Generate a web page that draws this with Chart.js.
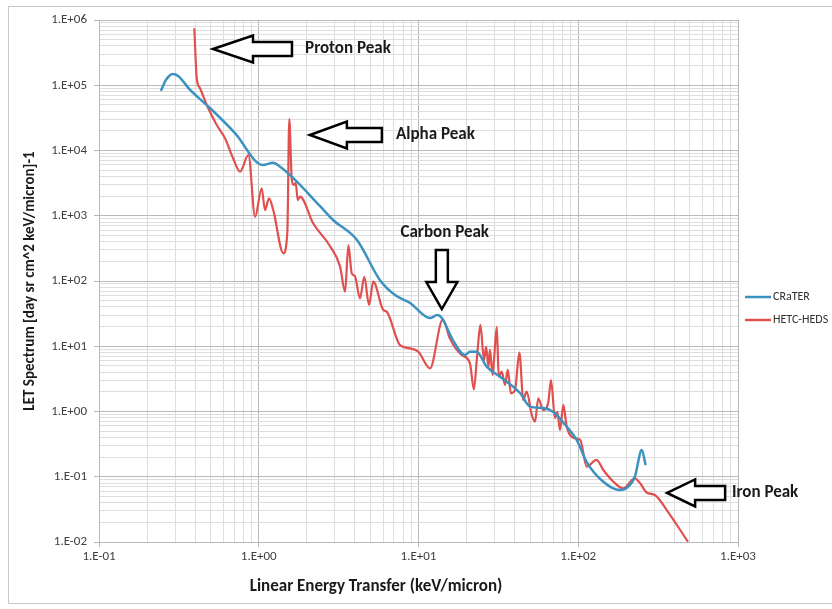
<!DOCTYPE html>
<html>
<head>
<meta charset="utf-8">
<title>LET Spectrum</title>
<script src="https://cdn.jsdelivr.net/npm/chart.js@4.4.1/dist/chart.umd.min.js"></script>
<style>
  html, body { margin: 0; padding: 0; background: #fff; }
  #wrap { width: 832px; height: 609px; position: relative; }
</style>
</head>
<body>
<div id="wrap"><canvas id="let-chart" width="832" height="609"></canvas></div>
<script>
// CRaTER measured spectrum
const craterX = [0.244, 0.262, 0.290, 0.313, 0.372, 0.495, 0.71, 1.06, 1.23, 1.36, 1.64, 2.42, 2.92, 4.12, 5.74, 7.13, 8.85, 11.8, 13.1, 14.0, 16.4, 19.5, 21.0, 23.1, 26.7, 32.4, 43.2, 49.9, 60.1, 69.5, 84.7, 97.8, 113, 143.5, 182, 201, 226, 250, 264];
const craterY = [8.2e4, 1.2e5, 1.49e5, 1.39e5, 8.46e4, 4.48e4, 1.85e4, 6000, 6500, 5650, 3800, 1400, 861, 425, 103, 61, 46, 27.1, 30, 27, 12.5, 7.35, 8.25, 8.25, 4.86, 3.41, 1.92, 1.19, 1.13, 0.99, 0.585, 0.366, 0.168, 0.084, 0.0627, 0.0673, 0.1, 0.257, 0.151];

// HETC-HEDS model spectrum
const hetcX = [0.395, 0.409, 0.428, 0.483, 0.546, 0.615, 0.690, 0.764, 0.861, 0.949, 1.043, 1.094, 1.159, 1.233, 1.425, 1.510, 1.553, 1.608, 1.662, 1.704, 1.754, 1.813, 2.19, 2.79, 3.23, 3.47, 3.64, 3.82, 4.0, 4.30, 4.58, 4.90, 5.21, 6.02, 6.32, 7.66, 8.85, 9.98, 11.8, 14.2, 15.7, 18.6, 21.0, 22.2, 23.3, 24.4, 25.7, 26.5, 27.4, 28.0, 29.1, 29.8, 30.9, 31.8, 33.2, 34.8, 36.2, 37.9, 40.2, 42.8, 45.3, 47.5, 51.2, 53.6, 56.2, 60.4, 65.0, 67.5, 71.5, 73.9, 76.9, 80.6, 84.7, 95.4, 103, 113, 130, 143.5, 166, 191, 226, 244, 268, 302, 358, 486];
const hetcY = [7.46e5, 1.29e5, 9.08e4, 4.43e4, 2.46e4, 1.54e4, 7670, 4730, 8530, 966, 2640, 1220, 1850, 1220, 266, 564, 3.04e4, 3750, 2960, 3180, 1740, 1960, 766, 344, 166, 68.5, 356, 131, 119, 54.3, 116, 42.9, 97.5, 35.9, 33.9, 10.4, 9.3, 8.25, 4.59, 25.7, 13.2, 7.35, 5.48, 2.19, 7.35, 21.2, 6.15, 9.84, 4.86, 8.77, 3.62, 6.92, 19.9, 3.41, 4.07, 2.55, 4.33, 1.90, 2.14, 7.96, 1.50, 2.01, 0.883, 0.698, 1.59, 1.05, 1.41, 3.04, 0.794, 0.99, 0.52, 1.26, 0.585, 0.388, 0.366, 0.1426, 0.181, 0.127, 0.084, 0.0665, 0.0946, 0.0794, 0.0574, 0.0525, 0.0309, 0.0101];

const seriesNames = ['CRaTER', 'HETC-HEDS'];
const xTickLabels = ['1.E-01', '1.E+00', '1.E+01', '1.E+02', '1.E+03'];
const yTickLabels = ['1.E-02', '1.E-01', '1.E+00', '1.E+01', '1.E+02', '1.E+03', '1.E+04', '1.E+05', '1.E+06'];
const xTitle = 'Linear Energy Transfer (keV/micron)';
const yTitle = 'LET Spectrum [day sr cm^2 keV/micron]-1';

// peak call-outs: text and arrow tip in data units
const peakNotes = [
  { text: 'Proton Peak', tipX: 0.517, tipY: 3.6e5, textX: 1.95, textY: 3.6e5, dir: 'left' },
  { text: 'Alpha Peak', tipX: 2.09, tipY: 1.73e4, textX: 7.23, textY: 1.73e4, dir: 'left' },
  { text: 'Carbon Peak', tipX: 14.0, tipY: 37.2, textX: 14.6, textY: 545, dir: 'down' },
  { text: 'Iron Peak', tipX: 360, tipY: 0.0564, textX: 916, textY: 0.0564, dir: 'left' }
];

const blue = '#3b92c0';
const red = '#e0504f';
const majorGrid = '#b9b9b9';
const minorGrid = '#dedede';
const fontFace = 'Carlito, Lato, "Open Sans", sans-serif';

function toPoints(xs, ys) {
  return xs.map((x, i) => ({ x: x, y: ys[i] }));
}

function isPow10(v) {
  const l = Math.log10(v);
  return Math.abs(l - Math.round(l)) < 1e-9;
}

// 1..9 x 10^n ticks, like the Excel log grid
function decadeTicks(labels) {
  const lo = Math.round(Math.log10(parseFloat(labels[0].replace('.E', 'E'))));
  const hi = lo + labels.length - 1;
  const ticks = [];
  for (let e = lo; e <= hi; e++) {
    const top = e === hi ? 1 : 9;
    for (let m = 1; m <= top; m++) {
      ticks.push({ value: parseFloat(m + 'e' + e) });
    }
  }
  return ticks;
}

function tickLabel(labels) {
  const lo = Math.round(Math.log10(parseFloat(labels[0].replace('.E', 'E'))));
  return function(value) {
    if (!isPow10(value)) return '';
    return labels[Math.round(Math.log10(value)) - lo];
  };
}

function drawArrow(ctx, x, y, dir, len, headLen, headHalf, shaftHalf) {
  ctx.beginPath();
  if (dir === 'left') {
    ctx.moveTo(x, y);
    ctx.lineTo(x + headLen, y - headHalf);
    ctx.lineTo(x + headLen, y - shaftHalf);
    ctx.lineTo(x + len, y - shaftHalf);
    ctx.lineTo(x + len, y + shaftHalf);
    ctx.lineTo(x + headLen, y + shaftHalf);
    ctx.lineTo(x + headLen, y + headHalf);
  } else {
    ctx.moveTo(x, y);
    ctx.lineTo(x - headHalf, y - headLen);
    ctx.lineTo(x - shaftHalf, y - headLen);
    ctx.lineTo(x - shaftHalf, y - len);
    ctx.lineTo(x + shaftHalf, y - len);
    ctx.lineTo(x + shaftHalf, y - headLen);
    ctx.lineTo(x + headHalf, y - headLen);
  }
  ctx.closePath();
  ctx.fillStyle = '#fff';
  ctx.fill();
  ctx.lineWidth = 2.5;
  ctx.strokeStyle = '#000';
  ctx.stroke();
}

const extrasPlugin = {
  id: 'extras',
  beforeDraw(chart) {
    const ctx = chart.ctx;
    ctx.save();
    ctx.strokeStyle = '#c8c8c8';
    ctx.lineWidth = 1;
    ctx.strokeRect(8.5, 6.5, 840, 597);
    ctx.restore();
  },
  afterDatasetsDraw(chart) {
    const ctx = chart.ctx;
    const xs = chart.scales.x;
    const ys = chart.scales.y;
    ctx.save();
    peakNotes.forEach(n => {
      const tx = xs.getPixelForValue(n.tipX);
      const ty = ys.getPixelForValue(n.tipY);
      if (n.dir === 'left') {
        const len = n.text === 'Iron Peak' ? 58 : (n.text === 'Alpha Peak' ? 72 : 79);
        const head = n.text === 'Iron Peak' ? 28 : (n.text === 'Alpha Peak' ? 37 : 40);
        drawArrow(ctx, tx, ty, 'left', len, head, 13.5, 7);
      } else {
        drawArrow(ctx, tx, ty, 'down', 59, 27, 15.5, 6);
      }
      ctx.font = 'bold 17px ' + fontFace;
      ctx.fillStyle = '#1a1a1a';
      ctx.textBaseline = 'middle';
      ctx.textAlign = n.dir === 'down' ? 'center' : 'left';
      ctx.fillText(n.text, xs.getPixelForValue(n.textX), ys.getPixelForValue(n.textY));
    });

    // x axis title, set a little left of the axis centre as in the original
    ctx.font = 'bold 17px ' + fontFace;
    ctx.fillStyle = '#1a1a1a';
    ctx.textAlign = 'center';
    ctx.textBaseline = 'middle';
    ctx.fillText(xTitle, 376, 587);

    // legend
    ctx.font = '12px ' + fontFace;
    ctx.textAlign = 'left';
    ctx.textBaseline = 'middle';
    chart.data.datasets.forEach((ds, i) => {
      const y = 297 + i * 23;
      ctx.strokeStyle = ds.borderColor;
      ctx.lineWidth = 2.5;
      ctx.beginPath();
      ctx.moveTo(745, y);
      ctx.lineTo(771, y);
      ctx.stroke();
      ctx.fillStyle = '#333';
      ctx.fillText(ds.label, 773, y);
    });
    ctx.restore();
  }
};

function axisOptions(labels, min, max, isX) {
  return {
    type: 'logarithmic',
    min: min,
    max: max,
    afterBuildTicks(scale) { scale.ticks = decadeTicks(labels); },
    afterFit(scale) {
      if (isX) scale.height = 67; else scale.width = 99;
    },
    ticks: {
      autoSkip: false,
      maxRotation: 0,
      padding: isX ? 2 : 7,
      color: '#404040',
      font: { family: fontFace, size: 13 },
      callback: tickLabel(labels)
    },
    grid: {
      color: c => isPow10(c.tick.value) ? majorGrid : minorGrid,
      tickColor: c => isPow10(c.tick.value) ? majorGrid : 'rgba(0,0,0,0)',
      tickLength: 5,
      lineWidth: 1
    },
    border: { color: majorGrid },
    title: {
      display: !isX,
      text: yTitle,
      color: '#1a1a1a',
      font: { family: fontFace, size: 15, weight: 'bold' },
      padding: { top: 21, bottom: 0 }
    }
  };
}

document.addEventListener('DOMContentLoaded', function() {
  const ctx = document.getElementById('let-chart').getContext('2d');
  new Chart(ctx, {
    type: 'line',
    data: {
      datasets: [
        {
          label: seriesNames[0],
          data: toPoints(craterX, craterY),
          borderColor: blue,
          borderWidth: 2.5,
          pointRadius: 0,
          cubicInterpolationMode: 'monotone',
          fill: false
        },
        {
          label: seriesNames[1],
          data: toPoints(hetcX, hetcY),
          borderColor: red,
          borderWidth: 2.2,
          pointRadius: 0,
          cubicInterpolationMode: 'monotone',
          fill: false
        }
      ]
    },
    options: {
      responsive: false,
      animation: false,
      layout: { padding: { left: 0, top: 20, right: 94, bottom: 0 } },
      plugins: {
        legend: { display: false },
        tooltip: { enabled: false }
      },
      scales: {
        x: axisOptions(xTickLabels, 0.1, 1000, true),
        y: axisOptions(yTickLabels, 0.01, 1e6, false)
      }
    },
    plugins: [extrasPlugin]
  });
});
</script>
</body>
</html>
